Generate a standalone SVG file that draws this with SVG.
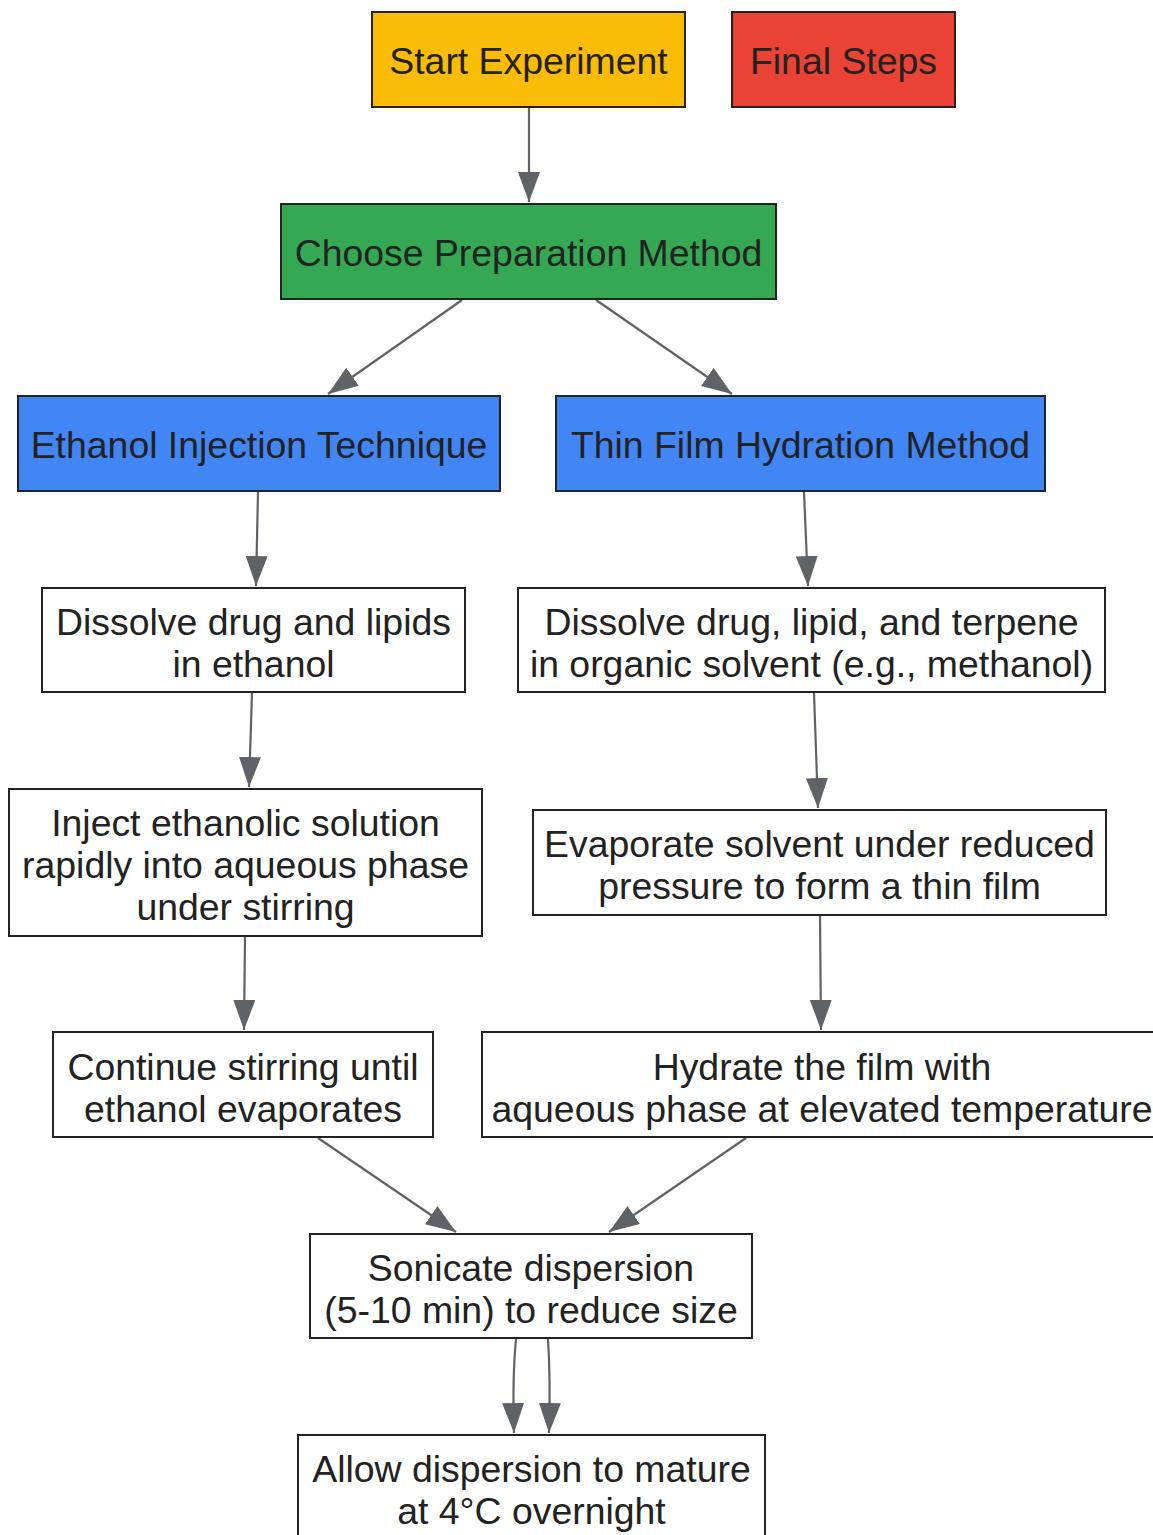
<svg xmlns="http://www.w3.org/2000/svg" width="1153" height="1535" viewBox="0 0 1153 1535">
<style>
.n{stroke:#222;stroke-width:2}
.w{fill:#fff}
.t{font-family:"Liberation Sans",Arial,sans-serif;font-size:37.4px;fill:#222;text-anchor:middle}
.e{fill:none;stroke:#5f6368;stroke-width:2.2;marker-end:url(#ah)}
</style>
<defs>
<marker id="ah" markerUnits="userSpaceOnUse" markerWidth="32" markerHeight="24" refX="30" refY="11" orient="auto">
<path d="M0,0 L30,11 L0,22 Z" fill="#5f6368"/>
</marker>
</defs>
<rect width="1153" height="1535" fill="#fff"/>
<g id="edges">
<path class="e" d="M529,108 L529,202"/>
<path class="e" d="M462,300 L328,394"/>
<path class="e" d="M596,300 L732,394"/>
<path class="e" d="M258,492 L256,586"/>
<path class="e" d="M804,492 L808,586"/>
<path class="e" d="M252,693 L249,787"/>
<path class="e" d="M814,693 L818,808"/>
<path class="e" d="M245,937 L244,1030"/>
<path class="e" d="M820,916 L821,1030"/>
<path class="e" d="M318,1138 L456,1232"/>
<path class="e" d="M746,1138 L609,1232"/>
<path class="e" d="M516,1339 C513,1370 513,1400 514,1433"/>
<path class="e" d="M548,1339 C550,1370 550,1400 549,1433"/>
</g>
<g id="start"><rect class="n" x="372" y="12" width="313" height="95" fill="#FBBC05"/><text class="t" x="528.5" y="73.5">Start Experiment</text></g>
<g id="final"><rect class="n" x="732" y="12" width="223" height="95" fill="#EA4335"/><text class="t" x="843.5" y="73.5">Final Steps</text></g>
<g id="choose"><rect class="n" x="281" y="204" width="495" height="95" fill="#34A853"/><text class="t" x="528.5" y="265.5">Choose Preparation Method</text></g>
<g id="ethanol"><rect class="n" x="18" y="396" width="482" height="95" fill="#4285F4"/><text class="t" x="259" y="457.5">Ethanol Injection Technique</text></g>
<g id="thinfilm"><rect class="n" x="556" y="396" width="489" height="95" fill="#4285F4"/><text class="t" x="800.5" y="457.5">Thin Film Hydration Method</text></g>
<g id="dissolve1"><rect class="n w" x="42" y="588" width="423" height="104"/><text class="t" x="253.5" y="634.5">Dissolve drug and lipids</text><text class="t" x="253.5" y="676.5">in ethanol</text></g>
<g id="dissolve2"><rect class="n w" x="518" y="588" width="587" height="104"/><text class="t" x="811.5" y="634.5">Dissolve drug, lipid, and terpene</text><text class="t" x="811.5" y="676.5">in organic solvent (e.g., methanol)</text></g>
<g id="inject"><rect class="n w" x="9" y="789" width="473" height="147"/><text class="t" x="245.5" y="835.5">Inject ethanolic solution</text><text class="t" x="245.5" y="877.5">rapidly into aqueous phase</text><text class="t" x="245.5" y="919.5">under stirring</text></g>
<g id="evaporate"><rect class="n w" x="533" y="810" width="573" height="105"/><text class="t" x="819.5" y="856.5">Evaporate solvent under reduced</text><text class="t" x="819.5" y="898.5">pressure to form a thin film</text></g>
<g id="continue"><rect class="n w" x="53" y="1032" width="380" height="105"/><text class="t" x="243" y="1079.5">Continue stirring until</text><text class="t" x="243" y="1121.5">ethanol evaporates</text></g>
<g id="hydrate"><rect class="n w" x="482" y="1032" width="680" height="105"/><text class="t" x="822" y="1079.5">Hydrate the film with</text><text class="t" x="822" y="1121.5">aqueous phase at elevated temperature</text></g>
<g id="sonicate"><rect class="n w" x="310" y="1234" width="442" height="104"/><text class="t" x="531" y="1280.5">Sonicate dispersion</text><text class="t" x="531" y="1322.5">(5-10 min) to reduce size</text></g>
<g id="allow"><rect class="n w" x="298" y="1435" width="467" height="110"/><text class="t" x="531.5" y="1481.5">Allow dispersion to mature</text><text class="t" x="531.5" y="1523.5">at 4°C overnight</text></g>
</svg>
